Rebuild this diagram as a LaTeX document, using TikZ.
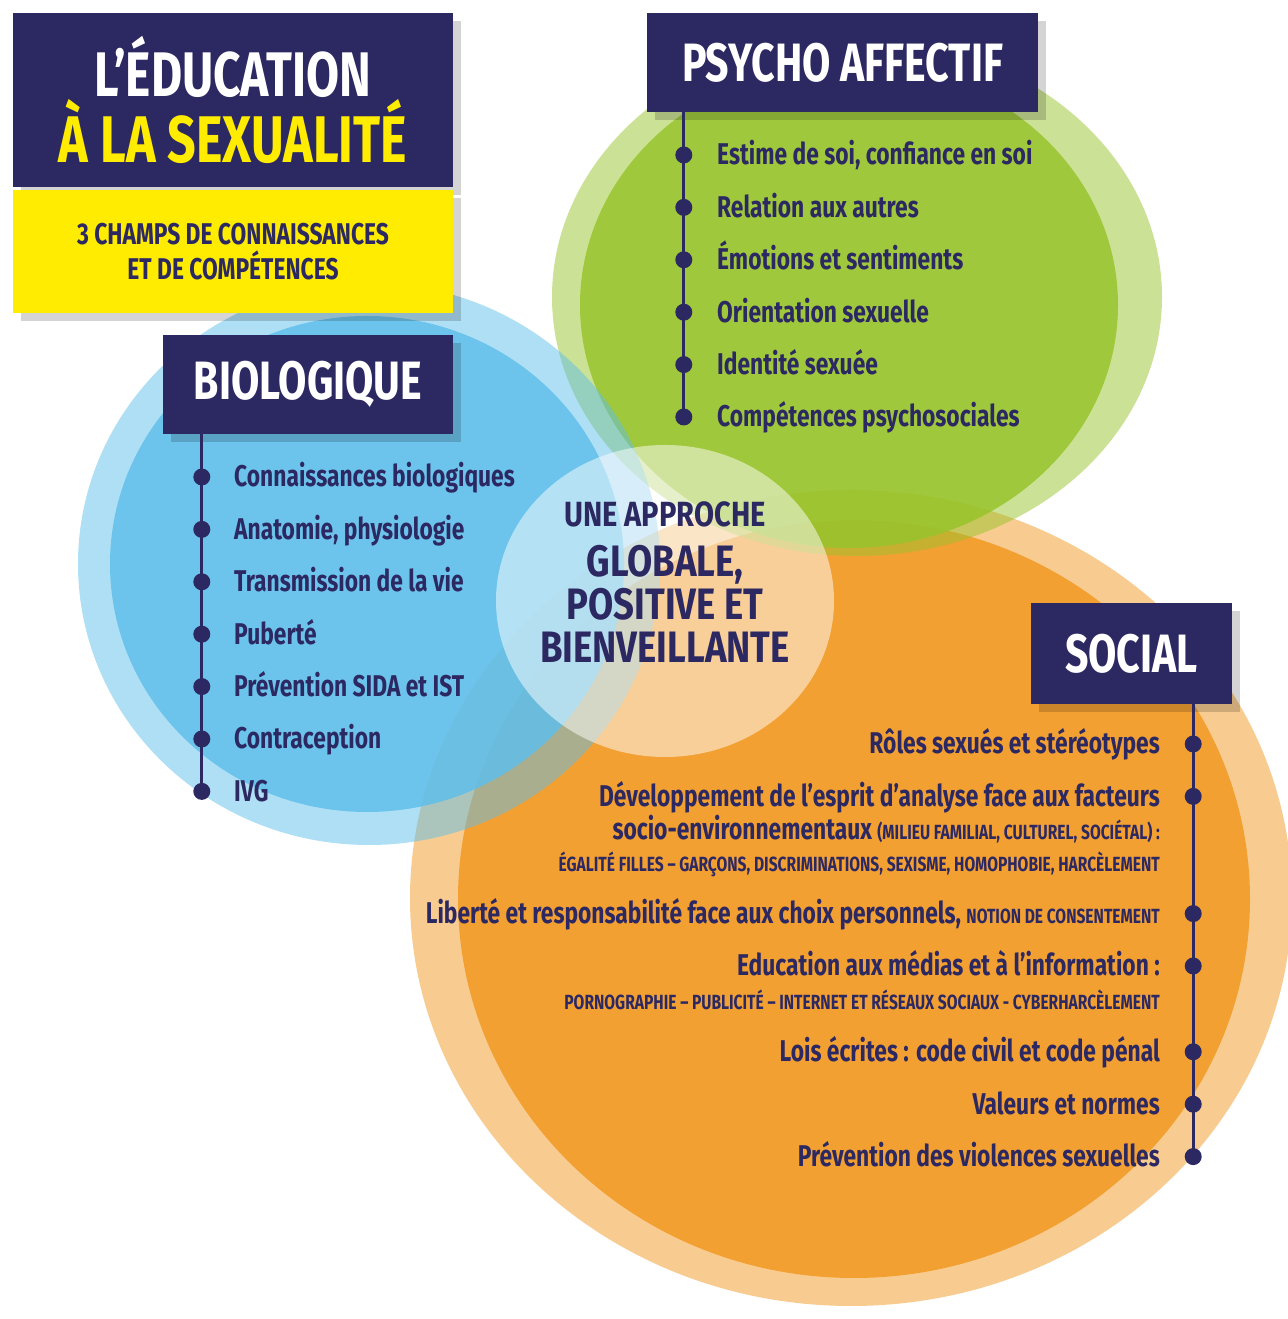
\documentclass[tikz,border=0pt]{standalone}
\usepackage{fontspec}
\setmainfont{Fira Sans}[FakeStretch=0.76]
\newfontfamily\ample{Fira Sans}[FakeStretch=0.83]
\usetikzlibrary{positioning,shadows}
\definecolor{marine}{RGB}{44,40,98}
\definecolor{jaune}{RGB}{255,236,0}
\definecolor{bleubio}{RGB}{96,191,234}
\definecolor{vertpsy}{RGB}{152,196,44}
\definecolor{orangesoc}{RGB}{242,152,34}
\newcommand{\precision}[1]{{\fontsize{20.5}{24}\selectfont #1}}
\tikzset{
	ombre/.style={drop shadow={shadow xshift=8pt, shadow yshift=-8pt, fill=black, opacity=.17}},
	titre/.style={rectangle, fill=marine, text=white, font=\bfseries\fontsize{63}{64}\selectfont,
		minimum width=440pt, minimum height=174pt, align=center, ombre},
	soustitre/.style={rectangle, fill=jaune, text=marine, font=\bfseries\fontsize{30}{35}\selectfont,
		minimum width=440pt, minimum height=123pt, align=center, ombre},
	rubrique/.style={rectangle, fill=marine, text=white, font=\bfseries\fontsize{54}{56}\selectfont,
		minimum height=99pt, ombre},
	point/.style={text=marine, font=\bfseries\fontsize{30}{34}\selectfont, inner sep=0pt,
		text height=24pt, text depth=4pt, text width=420pt, align=flush left},
	pointd/.style={point, text width=800pt, align=flush right},
	axe/.style={draw=marine, line width=3pt},
	puce/.style={fill=marine},
	approche/.style={text=marine, font=\ample\bfseries\fontsize{44}{43}\selectfont, align=center},
	anneau/.style={fill=#1, fill opacity=.5},
	disque/.style={fill=#1, fill opacity=.85}
}

\begin{document}
\begin{tikzpicture}[x=1pt, y=1pt, node distance=24pt]
	\useasboundingbox (0,0) rectangle (1287,1319);
	\fill[anneau=orangesoc] (851,421) ellipse [x radius=441pt, y radius=408pt];
	\fill[disque=orangesoc] (854,420) ellipse [x radius=396pt, y radius=379pt];
	\fill[anneau=vertpsy] (857,1022) ellipse [x radius=305pt, y radius=259pt];
	\fill[disque=vertpsy] (849,1014) ellipse [x radius=269pt, y radius=243pt];
	\fill[anneau=bleubio] (369,755) ellipse [x radius=291pt, y radius=281pt];
	\fill[disque=bleubio] (367,755) ellipse [x radius=257pt, y radius=248pt];
	\fill[white, fill opacity=.5] (665,718) ellipse [x radius=169pt, y radius=156pt];

	\node[titre] (titre) at (233,1219) {L’ÉDUCATION\\\textcolor{jaune}{\fontsize{66}{64}\selectfont À LA SEXUALITÉ}};
	\node[soustitre, below=3pt of titre] (champs) {3 CHAMPS DE CONNAISSANCES\\ET DE COMPÉTENCES};

	\node[rubrique, minimum width=391pt] (psy) at (842.5,1256.5) {PSYCHO AFFECTIF};
	\node[point, anchor=west] (p1) at (717,1164) {Estime de soi, confiance en soi};
	\node[point, below=of p1] (p2) {Relation aux autres};
	\node[point, below=of p2] (p3) {Émotions et sentiments};
	\node[point, below=of p3] (p4) {Orientation sexuelle};
	\node[point, below=of p4] (p5) {Identité sexuée};
	\node[point, below=of p5] (p6) {Compétences psychosociales};
	\coordinate (axepsy) at ([xshift=37pt]psy.south west);
	\draw[axe] (axepsy) -- (axepsy |- p6);
	\foreach \n in {p1,p2,p3,p4,p5,p6}
		\fill[puce] (axepsy |- \n) circle (8.5pt);

	\node[rubrique, minimum width=290pt] (bio) at (308,934.5) {BIOLOGIQUE};
	\node[point, anchor=west] (b1) at (234,842) {Connaissances biologiques};
	\node[point, below=of b1] (b2) {Anatomie, physiologie};
	\node[point, below=of b2] (b3) {Transmission de la vie};
	\node[point, below=of b3] (b4) {Puberté};
	\node[point, below=of b4] (b5) {Prévention SIDA et IST};
	\node[point, below=of b5] (b6) {Contraception};
	\node[point, below=of b6] (b7) {IVG};
	\coordinate (axebio) at ([xshift=39pt]bio.south west);
	\draw[axe] (axebio) -- (axebio |- b7);
	\foreach \n in {b1,b2,b3,b4,b5,b6,b7}
		\fill[puce] (axebio |- \n) circle (8.5pt);

	\node[rubrique, minimum width=201pt, minimum height=101pt] (soc) at (1131.5,665.5) {SOCIAL};
	\node[pointd, anchor=east] (s1) at (1160,575) {Rôles sexués et stéréotypes};
	\node[pointd, below=of s1] (s2) {Développement de l’esprit d’analyse face aux facteurs};
	\node[pointd, below=5pt of s2] (s2b) {socio-environnementaux \precision{(MILIEU FAMILIAL, CULTUREL, SOCIÉTAL)~:}};
	\node[pointd, below=3pt of s2b] (s2c) {\precision{ÉGALITÉ FILLES – GARÇONS, DISCRIMINATIONS, SEXISME, HOMOPHOBIE, HARCÈLEMENT}};
	\node[pointd, below=of s2c] (s3) {Liberté et responsabilité face aux choix personnels, \precision{NOTION DE CONSENTEMENT}};
	\node[pointd, below=of s3] (s4) {Education aux médias et à l’information~:};
	\node[pointd, below=5pt of s4] (s4b) {\precision{PORNOGRAPHIE – PUBLICITÉ – INTERNET ET RÉSEAUX SOCIAUX - CYBERHARCÈLEMENT}};
	\node[pointd, below=of s4b] (s5) {Lois écrites~: code civil et code pénal};
	\node[pointd, below=of s5] (s6) {Valeurs et normes};
	\node[pointd, below=of s6] (s7) {Prévention des violences sexuelles};
	\coordinate (axesoc) at ([xshift=-39pt]soc.south east);
	\draw[axe] (axesoc) -- (axesoc |- s7);
	\foreach \n in {s1,s2,s3,s4,s5,s6,s7}
		\fill[puce] (axesoc |- \n) circle (8.5pt);

	\node[approche] (globale) at (665,737) {{\fontsize{35}{40}\selectfont UNE APPROCHE}\\[7pt]GLOBALE,\\POSITIVE ET\\BIENVEILLANTE};
\end{tikzpicture}
\end{document}
